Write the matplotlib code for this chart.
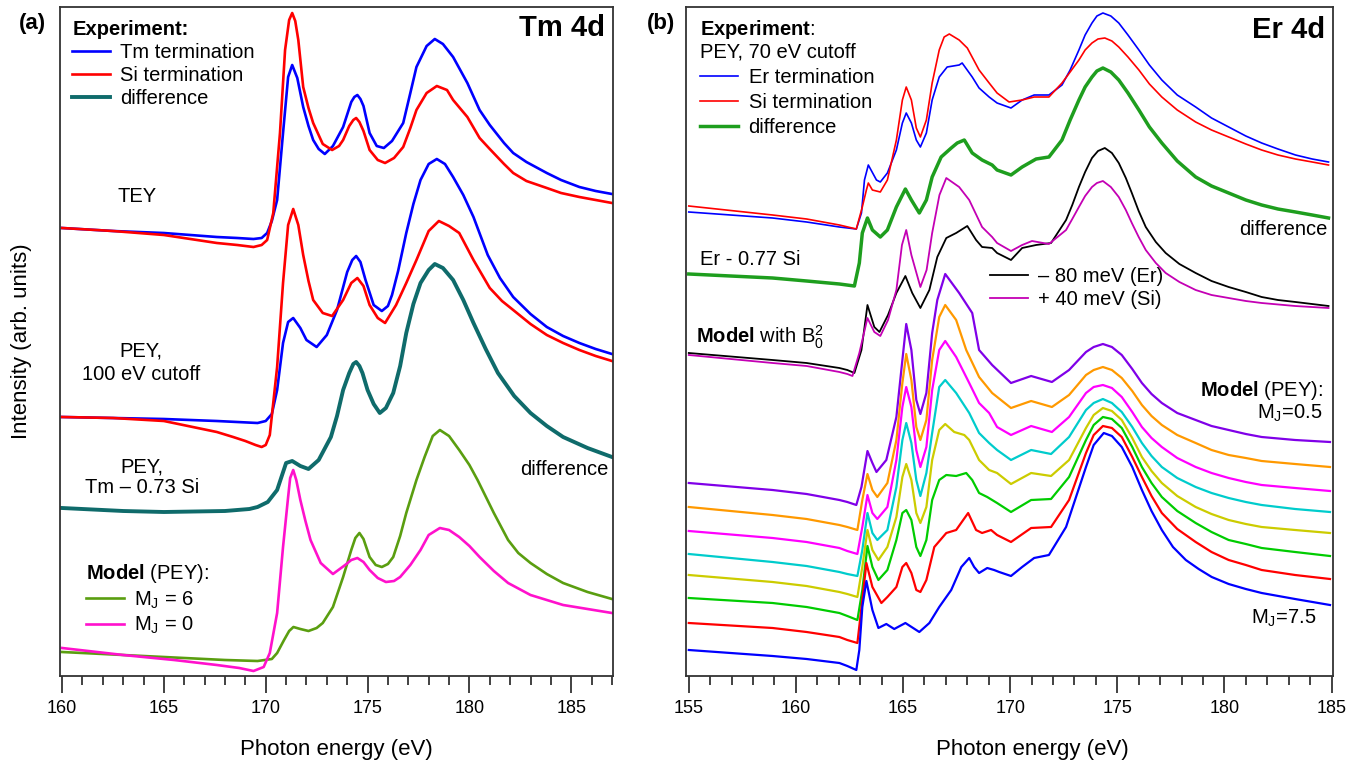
import numpy as np
import matplotlib
matplotlib.use('Agg')
import matplotlib.pyplot as plt
from matplotlib.ticker import MultipleLocator, NullLocator

plt.rcParams['font.family'] = ['Liberation Sans', 'DejaVu Sans']
plt.rcParams['mathtext.fontset'] = 'custom'
plt.rcParams['mathtext.rm'] = 'Liberation Sans'
plt.rcParams['mathtext.it'] = 'Liberation Sans:italic'
plt.rcParams['mathtext.bf'] = 'Liberation Sans:bold'
plt.rcParams['mathtext.default'] = 'regular'

# ---------------- (a) Tm 4d ----------------
# TEY, Tm termination
tm_tey_E = [160, 162.5, 165, 167.6, 168.6, 169.4, 169.8, 170.07, 170.3, 170.56,
            170.85, 171.1, 171.3, 171.55, 171.84, 172.1, 172.33, 172.6, 172.9, 173.3,
            173.8, 174.2, 174.35, 174.5, 174.65, 174.8, 175.1, 175.45, 175.8, 176.2,
            176.75, 177.1, 177.4, 177.9, 178.3, 178.7, 179.2, 179.9, 180.5, 181.0,
            181.7, 182.15, 182.8, 183.8, 184.5, 185.4, 186.2, 187]
tm_tey_I = [448, 445, 443, 439, 438, 437, 438, 443, 455, 476,
            543, 599, 611, 598, 569, 550, 536, 527, 522, 530,
            549, 574, 579, 581, 577, 570, 543, 530, 528, 535,
            553, 583, 609, 630, 637, 632, 619, 593, 566, 551,
            533, 523, 514, 503, 496, 489, 485, 482]
# TEY, Si termination
si_tey_E = [160, 162.5, 165, 167.6, 168.6, 169.4, 169.8, 170.07, 170.37, 170.7,
            170.95, 171.15, 171.3, 171.45, 171.6, 171.84, 172.1, 172.33, 172.8, 173.26,
            173.6, 173.8, 174.1, 174.3, 174.44, 174.6, 174.8, 175.1, 175.5, 175.86,
            176.3, 176.75, 177.1, 177.4, 177.9, 178.4, 178.9, 179.2, 179.9, 180.5,
            181.0, 181.7, 182.15, 182.8, 183.8, 184.5, 185.4, 186.2, 187]
si_tey_I = [448, 445, 441, 433, 431, 429, 431, 436, 463, 543,
            626, 656, 663, 655, 636, 589, 568, 553, 532, 526,
            530, 536, 550, 556, 558, 554, 545, 526, 516, 513,
            518, 529, 548, 566, 583, 590, 586, 576, 559, 538,
            527, 512, 503, 495, 488, 483, 479, 476, 473]
# PEY 100 eV cutoff, Tm termination
tm_pey_E = [160, 162.5, 165, 167.6, 169.6, 170.0, 170.3, 170.56, 170.85, 171.1,
            171.35, 171.7, 172.0, 172.5, 173.0, 173.5, 174.0, 174.25, 174.44, 174.65,
            174.9, 175.3, 175.7, 176.0, 176.2, 176.5, 176.9, 177.25, 177.6, 178.0,
            178.4, 178.8, 179.2, 179.7, 180.2, 180.9, 181.5, 182.15, 183.0, 183.8,
            184.6, 185.4, 186.2, 187]
tm_pey_I = [259, 258, 257, 255, 253, 255, 262, 286, 333, 354,
            358, 348, 336, 329, 341, 366, 404, 416, 420, 414,
            396, 371, 365, 370, 381, 405, 443, 472, 496, 512,
            517, 512, 499, 481, 459, 421, 398, 379, 362, 349,
            340, 333, 327, 322]
# PEY 100 eV cutoff, Si termination
si_pey_E = [160, 162.5, 165, 167.6, 168.4, 169.0, 169.5, 169.8, 170.0, 170.2,
            170.56, 170.85, 171.1, 171.35, 171.6, 171.84, 172.1, 172.33, 172.8, 173.26,
            173.8, 174.2, 174.5, 174.8, 175.1, 175.5, 175.86, 176.4, 176.9, 177.4,
            178.0, 178.5, 179.0, 179.5, 180.2, 181.0, 181.6, 182.15, 183.0, 183.8,
            184.6, 185.4, 186.2, 187]
si_pey_I = [259, 258, 255, 244, 239, 235, 231, 229, 231, 241,
            309, 393, 451, 467, 451, 421, 395, 376, 363, 360,
            376, 393, 398, 390, 371, 358, 353, 371, 393, 416,
            445, 455, 450, 443, 416, 388, 375, 366, 352, 341,
            333, 326, 320, 315]
# PEY difference Tm - 0.73 Si
dif_a_E = [160, 163, 165, 168, 169.2, 169.6, 170.1, 170.56, 171.0, 171.3,
           171.7, 172.1, 172.6, 173.2, 173.5, 173.8, 174.1, 174.3, 174.44, 174.6,
           174.75, 175.0, 175.3, 175.6, 175.9, 176.26, 176.6, 176.9, 177.25, 177.6,
           178.0, 178.3, 178.7, 179.2, 179.7, 180.2, 180.8, 181.4, 182.2, 183,
           183.8, 184.6, 185.8, 187]
dif_a_I = [168, 165, 164, 165, 167, 169, 174, 186, 213, 215,
           210, 207, 216, 239, 260, 286, 303, 312, 314, 310,
           303, 286, 272, 263, 268, 283, 310, 343, 372, 393,
           406, 412, 408, 396, 376, 353, 327, 303, 280, 263,
           250, 239, 228, 219]
# Model (PEY) M_J = 6
mj6_E = [160, 163, 165, 168, 169.6, 170.3, 170.56, 170.9, 171.15, 171.36,
         171.7, 172.1, 172.5, 172.8, 173.3, 173.8, 174.2, 174.4, 174.6, 174.8,
         175.1, 175.4, 175.7, 176.0, 176.26, 176.6, 176.9, 177.4, 177.8, 178.2,
         178.55, 179.0, 179.5, 180.0, 180.4, 181.2, 181.9, 182.4, 183, 183.8,
         184.6, 185.8, 187]
mj6_I = [24, 21, 19, 16, 15, 17, 23, 36, 45, 49,
         47, 45, 48, 53, 69, 99, 126, 138, 143, 137,
         119, 111, 109, 112, 119, 140, 163, 196, 219, 240,
         246, 240, 226, 211, 196, 163, 136, 123, 113, 102,
         93, 84, 77]
# Model (PEY) M_J = 0
mj0_E = [160, 163, 165.5, 167.6, 168.7, 169.4, 169.9, 170.2, 170.56, 170.85,
         171.1, 171.2, 171.35, 171.5, 171.7, 171.95, 172.2, 172.7, 173.3, 173.9,
         174.2, 174.5, 174.8, 175.1, 175.5, 175.9, 176.3, 176.6, 177.1, 177.6,
         178.0, 178.55, 179.0, 179.5, 180.0, 180.5, 181.2, 181.9, 183, 184.6,
         185.8, 187]
mj0_I = [28, 21, 16, 11, 8, 5, 9, 23, 63, 129,
         179, 198, 206, 196, 176, 155, 136, 113, 102, 111,
         116, 118, 114, 106, 98, 94, 95, 99, 111, 126,
         141, 148, 146, 139, 130, 119, 105, 93, 81, 71,
         67, 63]

# ---------------- (b) Er 4d ----------------
er_E = [155.0, 158.91, 160.5, 162.03, 162.82, 163.06, 163.2, 163.38, 163.76, 163.94,
        164.27, 164.69, 164.97, 165.15, 165.39, 165.62, 165.81, 166.09, 166.36, 166.69,
        167.06, 167.62, 167.76, 168.23, 168.55, 169.02, 169.39, 170.04, 170.56, 171.12,
        171.81, 172.42, 172.8, 173.21, 173.5, 173.82, 174.05, 174.33, 174.7, 175.07,
        175.5, 176.01, 176.5, 177.08, 177.8, 178.66, 179.4, 180.2, 181.0, 181.74,
        182.5, 183.32, 184.1, 184.86]
er_I = [463, 457, 453, 448, 446, 462, 495, 510, 495, 493,
        502, 525, 552, 562, 552, 535, 528, 542, 575, 598,
        608, 610, 612, 598, 587, 578, 572, 567, 575, 580,
        580, 590, 605, 625, 640, 652, 659, 662, 659, 652,
        640, 625, 610, 595, 580, 568, 557, 548, 539, 532,
        526, 520, 516, 513]
si_E = [155.0, 158.91, 160.5, 162.03, 162.82, 163.1, 163.29, 163.38, 163.57, 163.94,
        164.27, 164.69, 164.97, 165.15, 165.39, 165.62, 165.81, 166.09, 166.36, 166.69,
        166.92, 167.16, 167.62, 168.0, 168.55, 169.02, 169.39, 169.95, 170.56, 171.12,
        171.81, 172.42, 172.8, 173.21, 173.5, 173.82, 174.1, 174.42, 174.75, 175.07,
        175.5, 176.01, 176.5, 177.08, 177.8, 178.66, 179.4, 180.2, 181.0, 181.74,
        182.5, 183.32, 184.1, 184.86]
si_I = [469, 460, 456, 450, 446, 468, 485, 492, 485, 483,
        495, 535, 575, 588, 575, 547, 538, 555, 592, 625,
        638, 641, 635, 627, 605, 592, 582, 573, 575, 578,
        578, 592, 603, 615, 625, 632, 636, 637, 634, 628,
        618, 605, 591, 578, 565, 553, 545, 538, 531, 525,
        520, 516, 513, 510]
dif_b_E = [155.0, 158.91, 160.5, 162.03, 162.73, 162.96, 163.1, 163.34, 163.57, 163.94,
           164.27, 164.69, 165.11, 165.39, 165.76, 166.09, 166.36, 166.78, 167.25, 167.53,
           167.86, 168.23, 168.69, 169.16, 169.39, 170.04, 170.56, 171.21, 171.81, 172.42,
           172.8, 173.21, 173.5, 173.82, 174.05, 174.33, 174.7, 175.07, 175.5, 176.01,
           176.5, 177.08, 177.8, 178.66, 179.4, 180.2, 181.0, 181.74, 182.5, 183.32,
           184.1, 184.86]
dif_b_I = [401, 397, 394, 391, 389, 412, 442, 457, 445, 438,
           445, 468, 486, 475, 462, 475, 498, 518, 527, 532,
           535, 522, 515, 510, 505, 500, 508, 516, 518, 535,
           555, 575, 588, 598, 604, 607, 603, 595, 582, 565,
           548, 532, 514, 498, 489, 482, 475, 470, 466, 463,
           460, 457]
m80_E = [155.0, 158.91, 160.5, 162.03, 162.4, 162.73, 163.06, 163.34, 163.66, 163.9,
         164.3, 164.69, 165.11, 165.43, 165.81, 166.23, 166.6, 167.02, 167.48, 168.0,
         168.41, 168.69, 169.16, 169.39, 170.04, 170.56, 171.21, 171.91, 172.61, 172.9,
         173.21, 173.5, 173.82, 174.1, 174.42, 174.75, 175.07, 175.4, 175.68, 176.0,
         176.33, 176.8, 177.26, 177.9, 178.66, 179.4, 180.2, 181.0, 181.74, 182.5,
         183.32, 184.86]
m80_I = [322, 315, 312, 307, 305, 302, 325, 370, 348, 343,
         360, 382, 399, 382, 367, 385, 418, 437, 442, 449,
         435, 428, 427, 422, 415, 427, 430, 432, 455, 470,
         488, 503, 517, 524, 527, 522, 512, 497, 482, 464,
         448, 433, 422, 411, 402, 394, 388, 383, 378, 375,
         373, 369]
p40_E = [155.0, 158.91, 160.5, 162.03, 162.4, 162.64, 162.96, 163.34, 163.66, 163.94,
         164.3, 164.69, 164.95, 165.15, 165.39, 165.81, 166.1, 166.36, 166.7, 167.02,
         167.62, 168.09, 168.69, 169.16, 169.39, 170.04, 170.56, 171.02, 171.81, 172.61,
         172.9, 173.21, 173.5, 173.82, 174.05, 174.33, 174.7, 175.07, 175.4, 175.68,
         176.0, 176.33, 176.8, 177.26, 177.9, 178.66, 179.4, 180.2, 181.0, 181.74,
         183.3, 184.86]
p40_I = [320, 312, 309, 303, 301, 299, 322, 357, 343, 339,
         355, 385, 430, 445, 420, 388, 405, 442, 480, 497,
         488, 475, 448, 438, 432, 424, 430, 434, 431, 445,
         456, 468, 479, 488, 492, 494, 488, 478, 465, 452,
         438, 425, 412, 402, 393, 385, 380, 377, 374, 372,
         369, 367]

# model PEY, M_J = 0.5 ... 6.5 share the energies of the main-peak tail
tail_E = [173.54, 173.9, 174.33, 174.75, 175.21, 175.7, 176.15, 176.6, 177.08, 177.8,
          178.66, 179.4, 180.2, 181.0, 181.74, 183.3, 184.93]
mj05_E = [155.0, 158.91, 160.5, 162.03, 162.4, 162.82, 163.06, 163.34, 163.57, 163.76,
          164.22, 164.69, 164.97, 165.15, 165.39, 165.62, 165.81, 166.09, 166.36, 166.6,
          166.97, 167.62, 168.23, 168.55, 169.16, 170.04, 170.98, 171.95, 172.75] + tail_E
mj05_I = [192, 185, 181, 175, 173, 170, 188, 224, 212, 203,
          215, 258, 315, 351, 325, 275, 261, 282, 342, 375,
          401, 382, 362, 325, 310, 292, 299, 293, 305,
          323, 328, 331, 328, 320, 306, 292, 281, 272, 262, 255, 249, 245, 241, 238, 235, 233]
mj15_E = [155.0, 158.91, 160.5, 162.03, 162.4, 162.87, 163.1, 163.34, 163.57, 163.8,
          164.27, 164.69, 164.97, 165.15, 165.39, 165.62, 165.81, 166.09, 166.36, 166.69,
          166.97, 167.48, 167.95, 168.55, 169.16, 170.04, 170.98, 171.95, 172.75] + tail_E
mj15_I = [168, 160, 156, 150, 148, 145, 175, 201, 185, 178,
          192, 235, 292, 321, 295, 248, 235, 255, 315, 358,
          370, 355, 325, 298, 282, 267, 274, 268, 280,
          300, 305, 308, 305, 297, 284, 270, 259, 250, 240, 232, 225, 220, 217, 214, 211, 208]
mj25_E = [155.0, 158.91, 160.5, 162.03, 162.4, 162.87, 163.1, 163.34, 163.57, 163.8,
          164.27, 164.69, 164.97, 165.15, 165.39, 165.62, 165.81, 166.09, 166.36, 166.69,
          166.97, 167.48, 168.09, 168.55, 169.02, 169.39, 170.04, 170.98, 171.95, 172.75] + tail_E
mj25_I = [144, 137, 133, 127, 124, 121, 148, 180, 162, 156,
          168, 215, 268, 288, 268, 225, 208, 228, 285, 325,
          334, 318, 292, 272, 262, 248, 240, 249, 243, 258,
          282, 288, 290, 287, 278, 263, 248, 237, 228, 217, 208, 202, 197, 193, 190, 187, 184]
mj35_E = [155.0, 158.91, 160.5, 162.03, 162.4, 162.87, 163.1, 163.34, 163.57, 163.8,
          164.27, 164.69, 164.97, 165.15, 165.39, 165.62, 165.81, 166.09, 166.36, 166.69,
          166.97, 167.48, 168.09, 168.55, 169.02, 169.39, 170.04, 170.98, 171.91, 172.75] + tail_E
mj35_I = [121, 113, 109, 103, 101, 99, 125, 162, 142, 135,
          145, 188, 235, 252, 232, 195, 179, 202, 242, 288,
          295, 282, 262, 242, 232, 225, 215, 225, 221, 238,
          265, 272, 276, 272, 263, 248, 232, 219, 208, 197, 188, 182, 177, 173, 170, 166, 163]
mj45_E = [155.0, 158.91, 160.5, 162.03, 162.4, 162.87, 163.1, 163.34, 163.57, 163.85,
          164.27, 164.69, 164.97, 165.15, 165.39, 165.62, 165.81, 166.09, 166.36, 166.69,
          166.97, 167.39, 167.86, 168.09, 168.55, 169.02, 169.39, 170.04, 170.98, 171.91,
          172.75] + tail_E
mj45_I = [100, 93, 89, 83, 81, 78, 108, 145, 125, 115,
          128, 158, 198, 211, 195, 162, 152, 168, 215, 245,
          251, 243, 240, 235, 215, 205, 202, 191, 202, 199,
          215,
          247, 260, 267, 264, 255, 237, 218, 204, 192, 179, 168, 161, 155, 151, 148, 145, 142]
mj55_E = [155.0, 158.91, 160.5, 162.03, 162.4, 162.87, 163.1, 163.34, 163.57, 163.85,
          164.27, 164.69, 164.97, 165.15, 165.39, 165.62, 165.81, 166.09, 166.36, 166.69,
          167.02, 167.48, 167.95, 168.23, 168.55, 168.93, 169.39, 170.04, 170.98, 171.91,
          172.75] + tail_E
mj55_I = [77, 72, 68, 62, 59, 55, 85, 129, 108, 95,
          105, 135, 162, 165, 155, 128, 119, 135, 175, 195,
          200, 199, 202, 195, 182, 178, 172, 163, 175, 176,
          198,
          235, 250, 258, 256, 247, 228, 208, 192, 178, 164, 152, 143, 135, 131, 127, 123, 119]
mj65_E = [155.0, 158.91, 160.5, 162.03, 162.4, 162.87, 163.1, 163.29, 163.57, 163.99,
          164.27, 164.69, 164.97, 165.15, 165.39, 165.62, 165.81, 166.09, 166.46, 167.02,
          167.48, 168.04, 168.41, 168.69, 169.11, 169.39, 170.04, 170.98, 171.91, 172.75] + tail_E
mj65_I = [52, 47, 43, 38, 35, 32, 75, 112, 88, 72,
          78, 88, 108, 112, 102, 85, 83, 95, 128, 142,
          145, 162, 145, 142, 145, 140, 133, 147, 148, 175,
          222, 240, 249, 247, 238, 218, 198, 179, 162, 146, 133, 123, 115, 110, 105, 100, 96]
mj75_E = [155.0, 158.91, 160.5, 162.03, 162.4, 162.82, 162.96, 163.1, 163.29, 163.57,
          163.85, 164.22, 164.59, 165.11, 165.76, 166.23, 166.69, 167.25, 167.72, 168.09,
          168.32, 168.55, 168.93, 169.25, 169.49, 170.04, 170.56, 171.12, 171.81, 172.61,
          173.54, 173.9, 174.37, 174.75, 175.21, 175.7, 176.15, 176.6, 177.08, 177.6,
          178.2, 178.8, 179.41, 180.2, 181.0, 181.74, 183.3, 184.93]
mj75_I = [25, 19, 16, 12, 9, 5, 25, 68, 94, 65,
          47, 51, 46, 52, 43, 52, 68, 85, 108, 117,
          108, 102, 107, 105, 103, 99, 108, 117, 120, 148,
          208, 230, 242, 239, 228, 208, 185, 164, 145, 128,
          115, 106, 98, 91, 86, 82, 76, 70]

model_E = [mj05_E, mj15_E, mj25_E, mj35_E, mj45_E, mj55_E, mj65_E, mj75_E]
model_I = [mj05_I, mj15_I, mj25_I, mj35_I, mj45_I, mj55_I, mj65_I, mj75_I]
model_colors = ['#8000e8', '#ff9900', '#ff00ff', '#00cccc', '#cccc00', '#00cc00', '#ff0000', '#0000ff']

FS = 14.5


def style(ax, xlim, ylim, xlabel_x):
    ax.set_xlim(*xlim)
    ax.set_ylim(*ylim)
    ax.xaxis.set_major_locator(MultipleLocator(5))
    ax.xaxis.set_minor_locator(MultipleLocator(1))
    ax.yaxis.set_major_locator(NullLocator())
    ax.tick_params(axis='x', which='major', direction='out', length=12, width=1.3,
                   labelsize=13, pad=5, color='#333333')
    ax.tick_params(axis='x', which='minor', direction='out', length=6.5, width=1.3, color='#333333')
    for s in ax.spines.values():
        s.set_linewidth(1.3)
        s.set_color('#333333')
    ax.set_xlabel('Photon energy (eV)', fontsize=16)
    ax.xaxis.set_label_coords(xlabel_x, -0.094)


fig = plt.figure(figsize=(13.63, 7.66), dpi=100)
ax_a = fig.add_axes([60 / 1363, 1 - 676 / 766, 553 / 1363, 669 / 766])
ax_b = fig.add_axes([686 / 1363, 1 - 676 / 766, 647 / 1363, 669 / 766])

# ---- panel (a)
l1, = ax_a.plot(tm_tey_E, tm_tey_I, color='#0000ff', lw=1.9, label='Tm termination')
l2, = ax_a.plot(si_tey_E, si_tey_I, color='#ff0000', lw=1.9, label='Si termination')
ax_a.plot(tm_pey_E, tm_pey_I, color='#0000ff', lw=1.9)
ax_a.plot(si_pey_E, si_pey_I, color='#ff0000', lw=1.9)
l3, = ax_a.plot(dif_a_E, dif_a_I, color='#0f6b6b', lw=2.8, label='difference')
l4, = ax_a.plot(mj6_E, mj6_I, color='#5a9e10', lw=1.9, label='M$_J$ = 6')
l5, = ax_a.plot(mj0_E, mj0_I, color='#ff11cc', lw=1.9, label='M$_J$ = 0')
style(ax_a, (159.9, 187.05), (0, 669), 0.5)
ax_a.set_ylabel('Intensity (arb. units)', fontsize=16)
ax_a.yaxis.set_label_coords(-0.05, 0.5)

leg_kw = dict(frameon=False, fontsize=FS, handlelength=1.9, handletextpad=0.5,
              borderpad=0, borderaxespad=0, alignment='left')
leg1 = ax_a.legend(handles=[l1, l2, l3], loc='upper left', bbox_to_anchor=(0.022, 0.98),
                   title='Experiment:', title_fontproperties={'weight': 'bold', 'size': FS},
                   labelspacing=0.2, **leg_kw)
ax_a.add_artist(leg1)
ax_a.legend(handles=[l4, l5], loc='upper left', bbox_to_anchor=(0.047, 0.17),
            title=r'$\bf{Model}$ (PEY):', title_fontproperties={'size': FS},
            labelspacing=0.2, **leg_kw)

ax_a.text(0.985, 0.968, 'Tm 4d', transform=ax_a.transAxes, ha='right', va='center',
          fontsize=21, fontweight='bold')
ax_a.text(0.139, 0.716, 'TEY', transform=ax_a.transAxes, ha='center', va='center', fontsize=FS)
ax_a.text(0.146, 0.468, 'PEY,\n100 eV cutoff', transform=ax_a.transAxes, ha='center', va='center',
          fontsize=FS, linespacing=1.3)
ax_a.text(0.148, 0.297, 'PEY,\nTm – 0.73 Si', transform=ax_a.transAxes, ha='center', va='center',
          fontsize=FS, linespacing=1.15)
ax_a.text(0.991, 0.308, 'difference', transform=ax_a.transAxes, ha='right', va='center', fontsize=FS)

# ---- panel (b)
b1, = ax_b.plot(er_E, er_I, color='#0000ff', lw=1.2, label='Er termination')
b2, = ax_b.plot(si_E, si_I, color='#ff0000', lw=1.2, label='Si termination')
b3, = ax_b.plot(dif_b_E, dif_b_I, color='#1e9e1e', lw=2.5, label='difference')
b4, = ax_b.plot(m80_E, m80_I, color='#000000', lw=1.3, label='– 80 meV (Er)')
b5, = ax_b.plot(p40_E, p40_I, color='#c400b4', lw=1.3, label='+ 40 meV (Si)')
for E, I, c in zip(model_E, model_I, model_colors):
    ax_b.plot(E, I, color=c, lw=1.6)
style(ax_b, (154.87, 185.07), (-1, 668), 0.536)

leg3 = ax_b.legend(handles=[b1, b2, b3], loc='upper left', bbox_to_anchor=(0.022, 0.983),
                   title=r'$\bf{Experiment}$:' + '\nPEY, 70 eV cutoff',
                   title_fontproperties={'size': FS}, labelspacing=0.3, **leg_kw)
leg3.get_title().set_multialignment('left')
leg3.get_title().set_linespacing(1.1)
ax_b.add_artist(leg3)
ax_b.legend(handles=[b4, b5], loc='upper left', bbox_to_anchor=(0.47, 0.612),
            labelspacing=0.2, **leg_kw)

ax_b.text(0.988, 0.966, 'Er 4d', transform=ax_b.transAxes, ha='right', va='center',
          fontsize=21, fontweight='bold')
ax_b.text(0.0216, 0.623, 'Er - 0.77 Si', transform=ax_b.transAxes, ha='left', va='center', fontsize=FS)
ax_b.text(0.991, 0.667, 'difference', transform=ax_b.transAxes, ha='right', va='center', fontsize=FS)
ax_b.text(0.0155, 0.507, r'$\bf{Model}$ with B$_0^2$', transform=ax_b.transAxes, ha='left', va='center',
          fontsize=FS)
ax_b.text(0.985, 0.4275, r'$\bf{Model}$ (PEY):', transform=ax_b.transAxes, ha='right', va='center',
          fontsize=FS)
ax_b.text(0.983, 0.393, 'M$_J$=0.5', transform=ax_b.transAxes, ha='right', va='center', fontsize=FS)
ax_b.text(0.974, 0.0867, 'M$_J$=7.5', transform=ax_b.transAxes, ha='right', va='center', fontsize=FS)

fig.text(32 / 1363, 1 - 23 / 766, '(a)', ha='center', va='center', fontsize=16, fontweight='bold')
fig.text(661 / 1363, 1 - 23 / 766, '(b)', ha='center', va='center', fontsize=16, fontweight='bold')

fig.savefig('out.png', dpi=100)
